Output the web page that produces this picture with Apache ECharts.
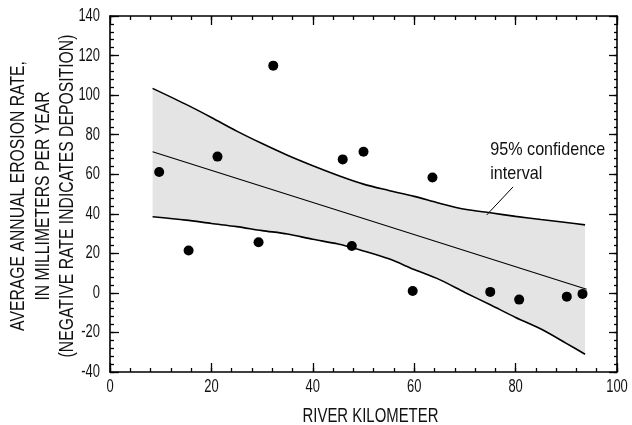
<!DOCTYPE html>
<html>
<head>
<meta charset="utf-8">
<script src="https://cdn.jsdelivr.net/npm/echarts@6/dist/echarts.min.js"></script>
<style>
  html, body { margin: 0; padding: 0; background: #fff; }
  #chart { width: 632px; height: 425px; }
</style>
</head>
<body>
<div id="chart"></div>
<script>
// Measured erosion sites: river kilometer and average annual erosion rate (mm/yr)
const siteKm   = [9.7, 15.5, 21.2, 29.3, 32.2, 45.9, 47.7, 50.0, 59.7, 63.6, 75.0, 80.7, 90.1, 93.2];
const siteRate = [61.1, 21.4, 68.9, 25.6, 114.9, 67.5, 23.7, 71.4, 1.0, 58.3, 0.5, -3.4, -1.9, -0.5];

// Fitted regression line
const fitKm   = [8.4, 50, 94];
const fitRate = [71.4, 37.6, 1.8];

// 95% confidence band limits
const bandKm    = [8.4, 15, 20, 25, 30, 35, 40, 45, 50, 55, 60, 65, 70, 75, 80, 85, 90, 93.7];
const bandUpper = [103.4, 95.3, 88.7, 81.8, 75.5, 69.6, 64.3, 59.4, 55.0, 51.8, 48.8, 45.3, 42.3, 40.5, 38.7, 37.1, 35.6, 34.4];
const bandLower = [38.5, 36.8, 35.1, 33.5, 31.5, 29.8, 27.1, 24.7, 21.2, 17.2, 11.8, 6.7, 0.2, -6.0, -12.4, -18.3, -25.5, -31.0];

// Annotation: label anchor and leader line
const noteLines  = ['95% confidence', 'interval'];
const noteAnchor = [75.0, 66.2];
const leaderKm   = [79.5, 74.3];
const leaderRate = [53.6, 39.4];

// Tick labels
const xTickValues = [0, 20, 40, 60, 80, 100];
const yTickValues = [-40, -20, 0, 20, 40, 60, 80, 100, 120, 140];

// Axis titles
const xTitle = 'RIVER KILOMETER';
const yTitleLines = [
  'AVERAGE ANNUAL EROSION RATE,',
  'IN MILLIMETERS PER YEAR',
  '(NEGATIVE RATE INDICATES DEPOSITION)'
];

const FONT = '"Liberation Sans", Arial, sans-serif';
const INK = '#000';

const zip = (a, b) => a.map((v, i) => [v, b[i]]);

// One frame side: axis line plus inward ticks at the given spacing
function frameAxis(min, max, step, position, tickLen, showLine) {
  return {
    type: 'value', min: min, max: max, interval: step, position: position,
    axisLine: { show: showLine, onZero: false, lineStyle: { color: INK, width: 1.6 } },
    axisTick: { show: true, inside: true, length: tickLen, lineStyle: { color: INK, width: 1.3 } },
    minorTick: { show: false },
    splitLine: { show: false },
    axisLabel: { show: false }
  };
}

const chart = echarts.init(document.getElementById('chart'), null, { renderer: 'canvas' });

chart.setOption({
  animation: false,
  backgroundColor: '#fff',
  grid: { left: 110, right: 15, top: 16, bottom: 53, outerBoundsMode: 'none', containLabel: false },
  xAxis: [
    frameAxis(0, 100, 20, 'bottom', 9, true),
    frameAxis(0, 100, 20, 'top', 9, true),
    frameAxis(0, 100, 4, 'bottom', 4, false),
    frameAxis(0, 100, 4, 'top', 4, false)
  ],
  yAxis: [
    frameAxis(-40, 140, 20, 'left', 9, true),
    frameAxis(-40, 140, 20, 'right', 8, true),
    frameAxis(-40, 140, 4, 'left', 4, false),
    frameAxis(-40, 140, 4, 'right', 3, false)
  ],
  series: [
    {
      // shaded confidence band between the two limit curves
      type: 'custom',
      name: 'band',
      data: [0],
      z: 1,
      silent: true,
      renderItem: function (params, api) {
        const pts = [];
        for (let i = 0; i < bandKm.length; i++) pts.push(api.coord([bandKm[i], bandUpper[i]]));
        for (let i = bandKm.length - 1; i >= 0; i--) pts.push(api.coord([bandKm[i], bandLower[i]]));
        return { type: 'polygon', shape: { points: pts }, style: { fill: '#e4e4e4', stroke: null } };
      }
    },
    {
      type: 'line', name: 'upper', data: zip(bandKm, bandUpper),
      smooth: 0.3, symbol: 'none', z: 3,
      lineStyle: { color: INK, width: 1.6 }
    },
    {
      type: 'line', name: 'lower', data: zip(bandKm, bandLower),
      smooth: 0.3, symbol: 'none', z: 3,
      lineStyle: { color: INK, width: 1.6 }
    },
    {
      type: 'line', name: 'fit', data: zip(fitKm, fitRate),
      symbol: 'none', z: 3,
      lineStyle: { color: INK, width: 1.1 }
    },
    {
      type: 'line', name: 'leader', data: zip(leaderKm, leaderRate),
      symbol: 'none', z: 3,
      lineStyle: { color: INK, width: 1 }
    },
    {
      type: 'scatter', name: 'sites', data: zip(siteKm, siteRate),
      symbol: 'circle', symbolSize: 10, z: 5,
      itemStyle: { color: '#000', opacity: 1 }
    }
  ]
});

// Condensed text: tick labels, axis titles and the note are drawn as
// horizontally squeezed text placed through the axes' own pixel mapping.
function squeezed(text, x, y, opts) {
  return {
    type: 'text',
    x: x, y: y,
    rotation: opts.rotation || 0,
    scaleX: opts.scaleX, scaleY: 1,
    silent: true,
    z: 10,
    style: {
      text: text,
      x: 0, y: 0,
      fill: '#111',
      fontFamily: FONT,
      fontSize: opts.size,
      align: opts.align || 'center',
      verticalAlign: 'middle'
    }
  };
}

const xPix = v => chart.convertToPixel({ xAxisIndex: 0 }, v);
const yPix = v => chart.convertToPixel({ yAxisIndex: 0 }, v);
const bottomPx = yPix(-40);
const leftPx = xPix(0);
const midY = (yPix(-40) + yPix(140)) / 2;
const midX = (xPix(0) + xPix(100)) / 2;

const labels = [];
xTickValues.forEach(v => {
  labels.push(squeezed(String(v), xPix(v), bottomPx + 15, { size: 18, scaleX: 0.72 }));
});
yTickValues.forEach(v => {
  labels.push(squeezed(String(v), leftPx - 10, yPix(v), { size: 18, scaleX: 0.72, align: 'right' }));
});
labels.push(squeezed(xTitle, midX + 7, bottomPx + 44, { size: 21, scaleX: 0.71 }));

const yTitleX = [18, 43, 67];
yTitleLines.forEach((line, i) => {
  labels.push(squeezed(line, yTitleX[i], midY + 2, { size: 21, scaleX: 0.75, rotation: Math.PI / 2 }));
});

const notePx = chart.convertToPixel({ xAxisIndex: 0, yAxisIndex: 0 }, noteAnchor);
noteLines.forEach((line, i) => {
  labels.push(squeezed(line, notePx[0], notePx[1] - 12 + i * 24, { size: 19, scaleX: 0.85, align: 'left' }));
});

chart.setOption({ graphic: { elements: labels } });
</script>
</body>
</html>
